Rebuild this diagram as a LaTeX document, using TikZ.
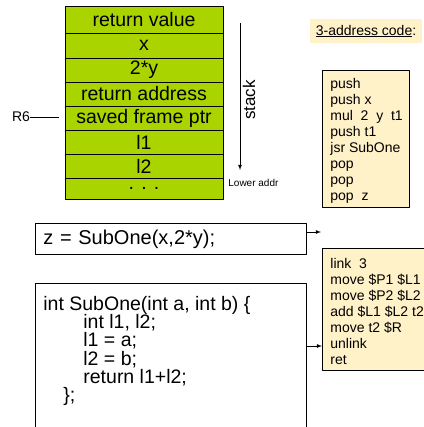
\documentclass[tikz,border=0pt]{standalone}
\usepackage{fontspec}
\setmainfont{Liberation Sans}
\definecolor{stackgreen}{RGB}{170,212,0}
\definecolor{codecream}{RGB}{255,241,200}

\begin{document}
\begin{tikzpicture}[x=1pt,y=-1pt,line width=0.8pt,line join=round,>=latex,
    cell/.style={draw,fill=stackgreen,minimum width=158pt,inner sep=0pt,font=\fontsize{19.5}{20}\selectfont},
    codebox/.style={draw,fill=codecream,inner sep=0pt,anchor=north west},
    codetext/.style={anchor=north west,inner sep=0pt,align=left,font=\fontsize{14}{16}\selectfont},
    srcbox/.style={draw,inner sep=0pt,anchor=north west,minimum width=271pt}]
      \useasboundingbox (0,0) rectangle (423,427);
      % stack frame
      \node[cell,minimum height=27pt] (retval)  at (144,19.5)  {return value};
      \node[cell,minimum height=25pt] (argx)    at (144,45.5)  {x};
      \node[cell,minimum height=24pt] (argy)    at (144,70)    {2*y};
      \node[cell,minimum height=24pt] (retaddr) at (144,94)    {return address};
      \node[cell,minimum height=24pt] (savedfp) at (144,118)   {saved frame ptr};
      \node[cell,minimum height=24pt] (locl1)   at (144,142)   {l1};
      \node[cell,minimum height=24pt] (locl2)   at (144,166)   {l2};
      \node[cell,minimum height=21pt] (more)    at (144,188.5) {. . .};
      \node[inner sep=0pt,font=\fontsize{14}{16}\selectfont] (rsix) at (21,117) {R6};
      \coordinate (rsixend) at (59,117);
      \draw (rsix) -- (rsixend);
      \coordinate (stacktop) at (240,23);
      \coordinate (stackbot) at (240,170);
      \draw[->] (stacktop) -- (stackbot);
      \node[rotate=90,inner sep=0pt,font=\fontsize{17}{18}\selectfont] (stacklbl) at (249,100) {stack};
      \node[anchor=west,inner sep=0pt,font=\fontsize{10}{12}\selectfont] (loweraddr) at (228,183) {Lower addr};
      % 3-address code
      \node[fill=codecream,minimum width=112pt,minimum height=24pt,inner sep=0pt,font=\fontsize{14}{16}\selectfont] (tachead) at (366,31) {\underline{3-address code}:};
      \node[codebox,minimum width=87pt,minimum height=137pt] (callbox) at (322,70) {};
      \node[codetext] (callcode) at (330,78) {push\\push x\\mul\ \ 2\ \ y\ \ t1\\push t1\\jsr SubOne\\pop\\pop\\pop\ \ z};
      \node[codebox,minimum width=110pt,minimum height=122pt] (subbox) at (322,248) {};
      \node[codetext] (subcode) at (330,258) {link\ \ 3\\move \$P1 \$L1\\move \$P2 \$L2\\add \$L1 \$L2 t2\\move t2 \$R\\unlink\\ret};
      % source
      \node[srcbox,minimum height=31pt,text width=255pt,inner xsep=8pt,align=left,font=\fontsize{20}{22}\selectfont] (callsrc) at (35,223) {z = SubOne(x,2*y);};
      \node[srcbox,minimum height=160pt] (funcbox) at (35,283) {};
      \node[anchor=north west,inner sep=0pt,align=left,font={\fontsize{19.5}{18.2}\selectfont\lineskiplimit-10pt}] (funcsrc) at (43,296)
        {int SubOne(int a, int b) \{\\
         \hspace*{40pt}int l1, l2;\\
         \hspace*{40pt}l1 = a;\\
         \hspace*{40pt}l2 = b;\\
         \hspace*{40pt}return l1+l2;\\
         \hspace*{20pt}\};};
      \coordinate (callarr) at (321,232);
      \draw[->] (callarr -| callsrc.east) -- (callarr);
      \coordinate (funcarr) at (322,346);
      \draw[->] (funcarr -| funcbox.east) -- (funcarr -| subbox.west);
    \end{tikzpicture}
\end{document}
